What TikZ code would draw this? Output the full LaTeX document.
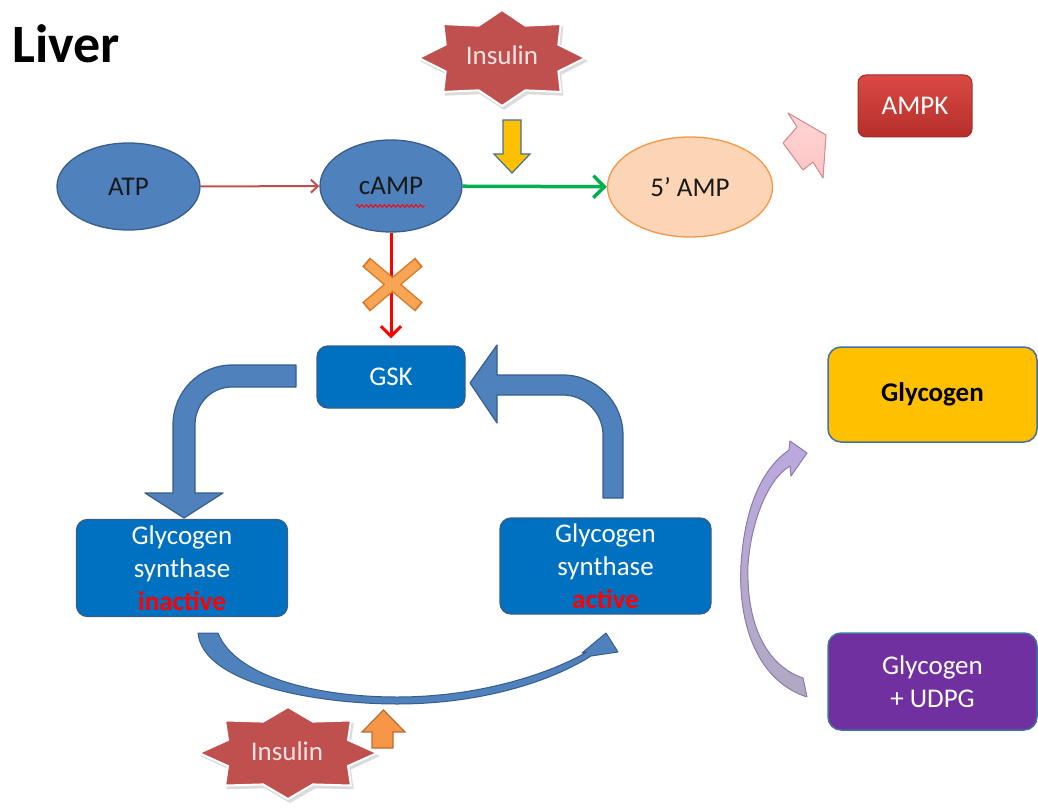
\documentclass[tikz,border=0pt]{standalone}
\usepackage{fontspec}
\setmainfont{Carlito}
\usetikzlibrary{arrows.meta,decorations.pathmorphing,shapes.geometric}
\definecolor{ellblue}{HTML}{4F81BD}
\definecolor{ellbord}{HTML}{385D8A}
\definecolor{gsblue}{HTML}{0070C0}
\definecolor{peach}{HTML}{FBD5B5}
\definecolor{peachbord}{HTML}{F79646}
\definecolor{starred}{HTML}{C0504D}
\definecolor{startxt}{HTML}{F6E4E4}
\definecolor{gold}{HTML}{FFC000}
\definecolor{udpg}{HTML}{7030A0}
\definecolor{boxbord}{HTML}{41719C}
\definecolor{ampktop}{HTML}{DA4944}
\definecolor{ampkbot}{HTML}{B52F2B}
\definecolor{ampkbord}{HTML}{9E2B28}
\definecolor{arrred}{HTML}{C0504D}
\definecolor{arrgreen}{HTML}{00B050}
\definecolor{xorange}{HTML}{F9A556}
\definecolor{xorangeb}{HTML}{DA7A2C}
\definecolor{upor}{HTML}{F79646}
\definecolor{uporb}{HTML}{B66D31}
\definecolor{yelbord}{HTML}{41719C}
\definecolor{pinkfill}{HTML}{FFC4C4}
\definecolor{pinkbord}{HTML}{D48A8A}
\definecolor{lavtop}{HTML}{BBA9DD}
\definecolor{lavbot}{HTML}{B0A9C2}
\definecolor{lavbord}{HTML}{8E7CB0}
\begin{document}
\begin{tikzpicture}[x=1pt,y=-1pt,
  txt/.style={font=\fontsize{27}{33}\selectfont, align=center, inner sep=0pt},
  ellnode/.style={ellipse, fill=ellblue, draw=ellbord, line width=1.3pt, txt, text=black!90},
  gsbox/.style={rectangle, rounded corners=11pt, fill=gsblue, draw=ellbord, line width=1.3pt, txt, text=white},
  sidebox/.style={rectangle, rounded corners=13pt, draw=boxbord, line width=1.5pt, txt, minimum width=209pt, minimum height=95pt},
  blockarr/.style={fill=ellblue, draw=ellbord, line width=1.2pt, line join=round},
  starshape/.style={fill=starred, draw=white, line width=2pt, line join=miter},
  starshadow/.style={fill=black!14},
  startext/.style={txt, text=startxt},
  thinarr/.style={line width=2pt, -{Straight Barb[length=7pt,width=13pt]}}
]
\useasboundingbox (0,0) rectangle (1038,810);

% title
\node[anchor=base west, inner sep=0pt, font=\bfseries\fontsize{54}{60}\selectfont] (liver) at (12,63) {Liver};

% top insulin star
\fill[starshadow] plot[samples at={0,...,15}] ({504+ifthenelse(mod(\x,2)==0,84,62)*cos(90+22.5*\x)},{61-ifthenelse(mod(\x,2)==0,49,36)*sin(90+22.5*\x)}) -- cycle;
\filldraw[starshape] plot[samples at={0,...,15}] ({502+ifthenelse(mod(\x,2)==0,83,61)*cos(90+22.5*\x)},{58-ifthenelse(mod(\x,2)==0,48,35)*sin(90+22.5*\x)}) -- cycle;
\node[startext] (ins1) at (502,55) {Insulin};

% yellow down arrow
\filldraw[fill=gold, draw=yelbord, line width=1.2pt, line join=miter]
  (503,120) -- (521,120) -- (521,154) -- (530,154) -- (512,173) -- (494,154) -- (503,154) -- cycle;

% ellipses
\node[ellnode, minimum width=143pt, minimum height=87pt] (atp) at (128.5,186.5) {ATP};
\node[ellnode, minimum width=142pt, minimum height=92pt] (camp) at (391,186) {cAMP};
\node[ellipse, fill=peach, draw=peachbord, line width=1.3pt, txt, text=black!90, minimum width=165pt, minimum height=100pt] (amp5) at (690,187) {5’ AMP};
\draw[red, line width=0.9pt, decorate, decoration={snake, amplitude=1.3pt, segment length=4.5pt}] (356,206) -- (425,206);

% pink block arrow
\filldraw[top color=pinkfill!70, bottom color=pinkfill, draw=pinkbord, line width=1pt, line join=round]
  (788,113) -- (826,135) -- (823,178) -- (813,162) -- (803,170) -- (783,143) -- (797,127) -- cycle;

% AMPK
\node[rectangle, rounded corners=8pt, top color=ampktop, bottom color=ampkbot, draw=ampkbord, line width=1pt, txt, text=white, minimum width=114pt, minimum height=62pt] (ampk) at (915,106) {AMPK};

% GSK
\node[gsbox, minimum width=148pt, minimum height=62pt] (gsk) at (391,377) {GSK};

% connectors
\draw[thinarr, arrred] (atp) -- (camp);
\draw[line width=3.5pt, arrgreen, -{Straight Barb[length=11pt,width=22pt]}] (camp) -- (amp5);
\draw[line width=3pt, red, -{Straight Barb[length=10pt,width=20pt]}, shorten >=7pt] (camp) -- (gsk);

% orange X
\draw[xorangeb, line width=12pt] (366,262) -- (419,307) (419,262) -- (366,307);
\draw[xorange, line width=9pt] (367.5,263.3) -- (417.5,305.7) (417.5,263.3) -- (367.5,305.7);

% glycogen synthase boxes
\node[gsbox, minimum width=211pt, minimum height=97pt] (gsi) at (182,568) {Glycogen\\synthase\\\textcolor{red}{\bfseries inactive}};
\node[gsbox, minimum width=211pt, minimum height=96pt] (gsa) at (605.5,566) {Glycogen\\synthase\\\textcolor{red}{\bfseries active}};

% bent arrow GSK -> inactive
\filldraw[blockarr]
  (296,365) -- (232,365) .. controls (199,365) and (173,392) .. (173,425) -- (173,493) -- (145,493) -- (184,518) -- (223,493) -- (195,493) -- (195,425) .. controls (195,404) and (211,387) .. (232,387) -- (296,387) -- cycle;

% bent arrow active -> GSK
\filldraw[blockarr]
  (603,498) -- (603,435) .. controls (603,413) and (585,395) .. (563,395) -- (497,395) -- (497,423) -- (470,383) -- (497,345) -- (497,375) -- (563,375) .. controls (596,375) and (623,402) .. (623,435) -- (623,498) -- cycle;

% bottom curved arrow inactive -> active
\filldraw[blockarr, line width=1pt]
  (198,633) .. controls (203,685) and (320,704) .. (397,704) .. controls (480,704) and (550,682) .. (591,656) -- (618,652) -- (606,633) -- (582,653) -- (587,652) .. controls (545,676) and (475,697) .. (397,697) .. controls (320,697) and (236,678) .. (218,633) -- cycle;

% orange up arrow
\filldraw[fill=upor, draw=uporb, line width=1.2pt, line join=miter]
  (372,748) -- (372,732) -- (362,732) -- (383.5,710) -- (405,732) -- (393,732) -- (393,748) -- cycle;

% bottom insulin star
\fill[starshadow] plot[samples at={0,...,15}] ({290+ifthenelse(mod(\x,2)==0,90,66)*cos(90+22.5*\x)},{756-ifthenelse(mod(\x,2)==0,47,35)*sin(90+22.5*\x)}) -- cycle;
\filldraw[starshape] plot[samples at={0,...,15}] ({288+ifthenelse(mod(\x,2)==0,89,65)*cos(90+22.5*\x)},{753-ifthenelse(mod(\x,2)==0,46,34)*sin(90+22.5*\x)}) -- cycle;
\node[startext] (ins2) at (287,751) {Insulin};

% right side boxes
\node[sidebox, fill=gold, text=black] (glyc) at (932.5,394.5) {\bfseries Glycogen};
\node[sidebox, fill=udpg, text=white, minimum height=97pt] (udpg) at (932.5,681.5) {Glycogen\\+ UDPG};

% purple curved arrow
\filldraw[top color=lavtop, bottom color=lavbot, draw=lavbord, line width=1pt, line join=round]
  (807,697) .. controls (755,680) and (738,620) .. (741,565) .. controls (745,500) and (766,466) .. (789,450) -- (790,441) -- (807,453) -- (791,476) -- (790,466) .. controls (769,478) and (751,520) .. (748,565) .. controls (746,620) and (764,665) .. (803,678) -- cycle;
\end{tikzpicture}
\end{document}
